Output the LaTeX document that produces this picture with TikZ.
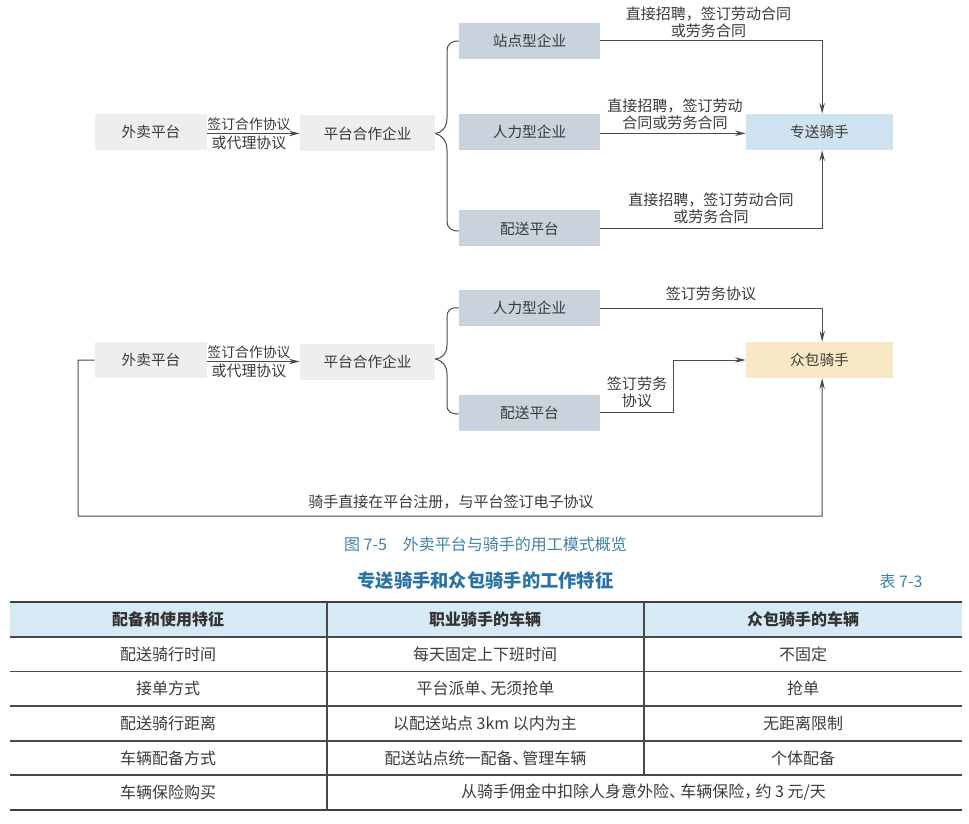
\documentclass[tikz,border=0pt]{standalone}
\usepackage{fontspec}
\setmainfont{Noto Sans CJK SC}
\usetikzlibrary{arrows.meta}
\definecolor{boxgray}{HTML}{EEEEEE}
\definecolor{boxslate}{HTML}{C8D3DE}
\definecolor{boxblue}{HTML}{CFE2F0}
\definecolor{boxyellow}{HTML}{F8E9C4}
\definecolor{headblue}{HTML}{D6EAF6}
\definecolor{inkgray}{HTML}{3A3A3A}
\definecolor{linegray}{HTML}{4A4A4A}
\definecolor{capblue}{HTML}{3F82A8}
\definecolor{titleblue}{HTML}{2A72A4}
\newcommand{\tightdun}{、\kern-0.4em}
\newcommand{\tightdunB}{、\kern-0.3em}
\newcommand{\tightdou}{，\kern-0.3em}
\tikzset{
  plainbox/.style={fill=boxgray, text=inkgray, font=\fontsize{11}{13}\selectfont, minimum height=27pt, inner sep=0pt},
  firmbox/.style={fill=boxslate, text=inkgray, font=\fontsize{11}{13}\selectfont, minimum width=105.75pt, minimum height=27pt, inner sep=0pt},
  riderbox/.style={text=inkgray, font=\fontsize{11}{13}\selectfont, minimum width=110.25pt, minimum height=27pt, inner sep=0pt},
  linklabel/.style={align=center, text=inkgray, font=\fontsize{11.27}{13}\selectfont, inner sep=0pt},
  dealabel/.style={align=center, text=inkgray, font=\fontsize{10.4}{13.5}\selectfont, inner sep=0pt},
  cell/.style={text=inkgray, font=\fontsize{12}{14}\selectfont, inner sep=0pt},
  headcell/.style={text=black!80, font=\fontsize{12}{14}\selectfont\bfseries, inner sep=0pt},
  link/.style={draw=linegray, line width=0.75pt},
  linkarrow/.style={link, -{Stealth[length=8pt,width=4pt]}},
  tablerule/.style={draw=linegray, line width=0.9pt},
  tableheavy/.style={draw=black!75, line width=1.2pt}
}
\begin{document}
\begin{tikzpicture}[x=0.75pt, y=-0.75pt]
\useasboundingbox (0,0) rectangle (969,823);
% upper chart
\node (pingtaiA) [plainbox, minimum width=84pt] at (151,132) {外卖平台};
\node (hezuoA) [plainbox, minimum width=101.25pt] at (367.5,133.5) {平台合作企业};
\node (zhandianA) [firmbox] at (529.5,41) {站点型企业};
\node (renliA) [firmbox] at (529.5,132) {人力型企业};
\node (peisongA) [firmbox] at (529.5,228.5) {配送平台};
\node (zhuansong) [riderbox, fill=boxblue] at (819.5,132) {专送骑手};
\draw [linkarrow] (hezuoA.west -| pingtaiA.east) -- (hezuoA.west);
\draw [link] (hezuoA.east) .. controls (441,133) and (447,128) .. (447,118) -- (447,51) .. controls (447,44) and (451,41) .. (zhandianA.west);
\draw [link] (hezuoA.east) .. controls (441,135) and (447,140) .. (447,150) -- (447,221) .. controls (447,228) and (451,231) .. ([yshift=-1.9pt]peisongA.west);
\draw [linkarrow] (zhandianA.east) -| ([xshift=2pt]zhuansong.north);
\draw [linkarrow] ([yshift=-1pt]renliA.east) -- ([yshift=-1pt]zhuansong.west);
\draw [linkarrow] (peisongA.east) -| ([xshift=2pt]zhuansong.south);
\node (dealA) [dealabel] at (249,134) {签订合作协议\\[1pt]{\fontsize{11.2}{13.5}\selectfont 或代理协议}};
\node (zhaopinA) [linklabel] at (708.5,22.5) {直接招聘，签订劳动合同\\或劳务合同};
\node (zhaopinB) [linklabel] at (675,114.5) {直接招聘，签订劳动\\合同或劳务合同};
\node (zhaopinC) [linklabel] at (711,208) {直接招聘，签订劳动合同\\或劳务合同};
% lower chart
\node (pingtaiB) [plainbox, minimum width=84pt] at (151,360) {外卖平台};
\node (hezuoB) [plainbox, minimum width=101.25pt] at (367.5,361.5) {平台合作企业};
\node (renliB) [firmbox] at (529.5,308) {人力型企业};
\node (peisongB) [firmbox] at (529.5,412.5) {配送平台};
\node (zhongbao) [riderbox, fill=boxyellow] at (819.5,360) {众包骑手};
\draw [linkarrow] (hezuoB.west -| pingtaiB.east) -- (hezuoB.west);
\draw [link] ([yshift=1.9pt]hezuoB.east) .. controls (441,359) and (447,354) .. (447,345) -- (447,317) .. controls (447,310) and (451,307) .. (renliB.west);
\draw [link] ([yshift=1.9pt]hezuoB.east) .. controls (441,360) and (447,365) .. (447,374) -- (447,405) .. controls (447,412) and (451,414) .. ([yshift=-1pt]peisongB.west);
\draw [linkarrow] (renliB.east) -| ([xshift=2pt]zhongbao.north);
\draw [linkarrow] (peisongB.east) -- (673,412.5) -- (673,360) -- (zhongbao.west);
\draw [linkarrow] (pingtaiB.west) -- (78,360) -- (78,516) -- (822,516) -- ([xshift=2pt]zhongbao.south);
\node (dealB) [dealabel] at (249,362) {签订合作协议\\[1pt]{\fontsize{11.2}{13.5}\selectfont 或代理协议}};
\node (laowuA) [linklabel] at (711,294) {签订劳务协议};
\node (laowuB) [linklabel] at (637,392) {签订劳务\\协议};
\node (zhuce) [linklabel] at (451,502) {骑手直接在平台注册，与平台签订电子协议};
\node (figcap) [text=capblue, font=\fontsize{12}{14}\selectfont, inner sep=0pt] at (485.5,544) {图 7-5\hspace{1em}外卖平台与骑手的用工模式概览};
% table
\node (tabtitle) [text=titleblue, font=\fontsize{13.7}{16}\selectfont\bfseries, inner sep=0pt] at (485.5,581) {专送骑手和众包骑手的工作特征};
\node (tabno) [text=capblue, font=\fontsize{12}{14}\selectfont, inner sep=0pt] at (901,581) {表 7-3};
\fill [headblue] (10,602) rectangle (962,637);
\draw [tableheavy] (10,602) -- (962,602);
\draw [tablerule] (10,637) -- (962,637);
\draw [tablerule] (10,671.5) -- (962,671.5);
\draw [tablerule] (10,706) -- (962,706);
\draw [tablerule] (10,741) -- (962,741);
\draw [tablerule] (10,775) -- (962,775);
\draw [tableheavy] (10,810) -- (962,810);
\draw [tablerule] (327,602) -- (327,810);
\draw [tablerule] (644,602) -- (644,775);
\node (headA) [headcell] at (168,619.5) {配备和使用特征};
\node (headB) [headcell] at (485,619.5) {职业骑手的车辆};
\node (headC) [headcell] at (803,619.5) {众包骑手的车辆};
\node (rowAa) [cell] at (168,654) {配送骑行时间};
\node (rowAb) [cell] at (485,654) {每天固定上下班时间};
\node (rowAc) [cell] at (803,654) {不固定};
\node (rowBa) [cell] at (168,688.5) {接单方式};
\node (rowBb) [cell] at (485.5,688.5) {平台派单\tightdun 无须抢单};
\node (rowBc) [cell] at (803,688.5) {抢单};
\node (rowCa) [cell] at (168,723) {配送骑行距离};
\node (rowCb) [cell] at (485,723) {以配送站点 3km 以内为主};
\node (rowCc) [cell] at (803,723) {无距离限制};
\node (rowDa) [cell] at (168,758) {车辆配备方式};
\node (rowDb) [cell] at (485.5,758) {配送站点统一配备\tightdun 管理车辆};
\node (rowDc) [cell] at (803,758) {个体配备};
\node (rowEa) [cell] at (168,792) {车辆保险购买};
\node (rowEb) [cell] at (643.5,792) {从骑手佣金中扣除人身意外险\tightdunB 车辆保险\tightdou 约 3 元/天};
\end{tikzpicture}
\end{document}
